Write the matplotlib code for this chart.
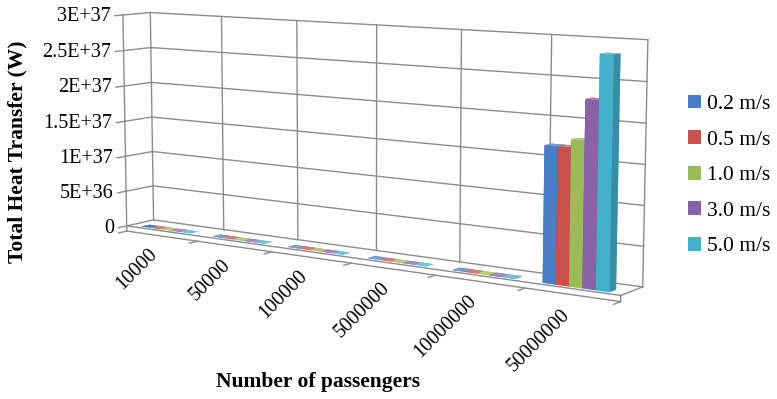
import matplotlib
matplotlib.use('Agg')
import matplotlib.pyplot as plt
import matplotlib.colors as mcolors
from matplotlib.patches import Patch
from mpl_toolkits.mplot3d import proj3d

# Data
passengers = ['10000', '50000', '100000', '5000000', '10000000', '50000000']
speeds = ['0.2 m/s', '0.5 m/s', '1.0 m/s', '3.0 m/s', '5.0 m/s']
heat_02 = [2.7e21, 1.7e24, 2.7e25, 1.7e33, 2.7e34, 1.70e37]
heat_05 = [2.7e21, 1.7e24, 2.7e25, 1.7e33, 2.7e34, 1.70e37]
heat_10 = [2.8e21, 1.8e24, 2.9e25, 1.8e33, 2.9e34, 1.80e37]
heat_30 = [3.7e21, 2.3e24, 3.7e25, 2.3e33, 3.7e34, 2.30e37]
heat_50 = [4.6e21, 2.9e24, 4.6e25, 2.9e33, 4.6e34, 2.85e37]
series = [heat_02, heat_05, heat_10, heat_30, heat_50]
colors = ['#4a7ec4', '#c9504c', '#9bbb59', '#8a62a8', '#45b0cc']
y_ticks = [0, 5e36, 1e37, 1.5e37, 2e37, 2.5e37, 3e37]
y_ticklabels = ['0', '5E+36', '1E+37', '1.5E+37', '2E+37', '2.5E+37', '3E+37']

plt.rcParams['font.family'] = ['Liberation Serif', 'DejaVu Serif']


def shade(c, f):
    r, g, b = mcolors.to_rgb(c)
    if f < 1:
        return (r * f, g * f, b * f)
    return tuple(v + (1 - v) * (f - 1) for v in (r, g, b))


fig = plt.figure(figsize=(7.77, 3.99), dpi=100)
# square axes, larger than the figure, so the 3D box is never clipped
ax = fig.add_axes([-0.045, 0.62 - 0.977, 1.0, 1.954], projection='3d')
ax.computed_zorder = False
ax.set_proj_type('persp', focal_length=0.45)
ax.view_init(elev=8, azim=-55)

ncat = len(passengers)
zmax = y_ticks[-1]
ax.set_xlim(0, ncat)
ax.set_ylim(0, 1)
ax.set_zlim(0, zmax)
ax.set_box_aspect((572, 42, 219), zoom=0.805)
ax.set_axis_off()

grid = dict(color='#8c8c8c', lw=1.0, zorder=1)

# back wall + left wall gridlines
for z in y_ticks:
    ax.plot([0, ncat], [1, 1], [z, z], **grid)
    ax.plot([0, 0], [0, 1], [z, z], **grid)
    ax.plot([0, 0], [-0.3, 0], [z, z], **grid)
for i in range(ncat + 1):
    ax.plot([i, i], [1, 1], [0, zmax], **grid)
ax.plot([0, 0], [0, 0], [0, zmax], **grid)

# floor slab
slab = -0.025 * zmax
ax.plot([0, ncat], [0, 0], [0, 0], **grid)
ax.plot([0, ncat], [0, 0], [slab, slab], **grid)
ax.plot([ncat, ncat], [0, 1], [0, 0], **grid)
ax.plot([ncat, ncat], [0, 0], [0, slab], **grid)
ax.plot([0, 0], [0, 0], [0, slab], **grid)
for i in range(ncat + 1):
    ax.plot([i, i], [0, -0.3], [slab, slab], **grid)

# bars: faces -z, +z, -y, +y, -x, +x
bw = 0.14
for i in range(ncat):
    for j, vals in enumerate(series):
        c = colors[j]
        faces = [c, shade(c, 1.25), c, c, shade(c, 0.85), shade(c, 0.8)]
        ax.bar3d(i + 0.15 + j * bw, 0.15, 0, bw, 0.3, vals[i],
                 color=faces, shade=False, zorder=3 + i * 10 + j)

# tick labels placed at projected 3D positions
fig.canvas.draw()


def to2d(x, y, z):
    x2, y2, _ = proj3d.proj_transform(x, y, z, ax.get_proj())
    return x2, y2


for z, lab in zip(y_ticks, y_ticklabels):
    px, py = to2d(0, -0.45, z)
    ax.text2D(px, py, lab, transform=ax.transData, ha='right', va='center', fontsize=14.5)
for i, lab in enumerate(passengers):
    px, py = to2d(i + 0.5, -0.5, slab * 2)
    ax.text2D(px, py, lab, transform=ax.transData, ha='right', va='top', rotation=45,
              rotation_mode='anchor', fontsize=14.5)

fig.text(0.023, 0.619, 'Total Heat Transfer (W)', rotation=90, ha='center', va='center',
         fontsize=15.5, fontweight='bold')
fig.text(0.409, 0.043, 'Number of passengers', ha='center', va='center',
         fontsize=15.5, fontweight='bold')

handles = [Patch(facecolor=c, edgecolor='none') for c in colors]
fig.legend(handles, speeds, loc='center left', bbox_to_anchor=(0.86, 0.56), frameon=False,
           fontsize=15.5, handlelength=0.6, handleheight=0.6, handletextpad=0.3, labelspacing=0.75)

fig.savefig('out.png', dpi=100)
